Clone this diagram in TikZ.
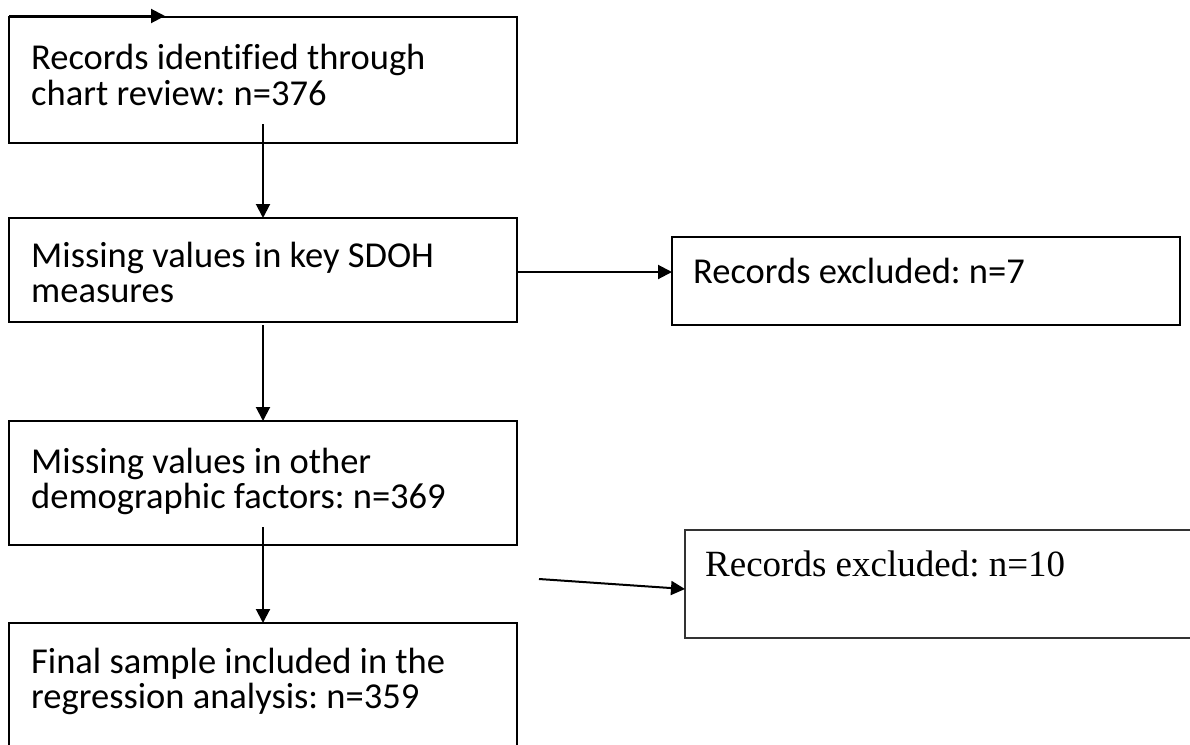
\documentclass[tikz,border=0pt]{standalone}
\usepackage{fontspec}
\setmainfont[Ligatures=NoCommon]{Carlito}
\newfontfamily\tnr{Liberation Serif}
\usetikzlibrary{arrows.meta}
\frenchspacing
\begin{document}
\begin{tikzpicture}[x=1pt,y=-1pt,
  box/.style={draw=black, line width=1.5pt, inner sep=0pt, outer sep=0pt, anchor=north west},
  lbl/.style={anchor=base west, inner sep=0pt, font=\frenchspacing\fontsize{36.5}{35}\selectfont},
  lblserif/.style={anchor=base west, inner sep=0pt, font=\frenchspacing\tnr\fontsize{37}{38}\selectfont},
  arr/.style={line width=2pt, -{Triangle[length=14pt,width=14pt]}}]
\useasboundingbox (0,0) rectangle (1190,744);
\clip (0,0) rectangle (1190,744);
\fill[white] (0,0) rectangle (1190,744);
% boxes
\node[box, minimum width=508pt, minimum height=126pt] (b1) at (9,17) {};
\node[box, minimum width=508pt, minimum height=104pt] (b2) at (9,218) {};
\node[box, minimum width=508pt, minimum height=88pt] (b3) at (672,237) {};
\node[box, minimum width=508pt, minimum height=124pt] (b4) at (9,421) {};
\node[box, minimum width=508pt, minimum height=160pt] (b5) at (9,623) {};
\node[box, draw=black!80, minimum width=530pt, minimum height=108pt] (b6) at (685,530) {};
% texts
\node[lbl] (t1a) at (31,69) {Records identified through};
\node[lbl] (t1b) at (31,105) {chart review: n=376};
\node[lbl] (t2a) at (31,267) {Missing values in key SDOH};
\node[lbl] (t2b) at (31,302) {measures};
\node[lbl] (t3) at (693,283) {Records excluded: n=7};
\node[lbl] (t4a) at (31,473) {Missing values in other};
\node[lbl] (t4b) at (31,508) {demographic factors: n=369};
\node[lbl] (t5a) at (31,673) {Final sample included in the};
\node[lbl] (t5b) at (31,708) {regression analysis: n=359};
\node[lblserif] (t6) at (705,576) {Records excluded: n=10};
% connectors
\coordinate (s0) at (9,16);
\coordinate (e0) at (165,16);
\draw[arr] (s0) -- (e0);
\coordinate (s1) at (263,124);
\draw[arr] (s1) -- (s1 |- b2.north);
\coordinate (s2) at (517,272);
\draw[arr] (s2) -- (s2 -| b3.west);
\coordinate (s3) at (263,325);
\draw[arr] (s3) -- (s3 |- b4.north);
\coordinate (s4) at (263,527);
\draw[arr] (s4) -- (s4 |- b5.north);
\coordinate (s5) at (539,579);
\coordinate (e5) at (685,589);
\draw[arr] (s5) -- (e5);
\end{tikzpicture}
\end{document}
